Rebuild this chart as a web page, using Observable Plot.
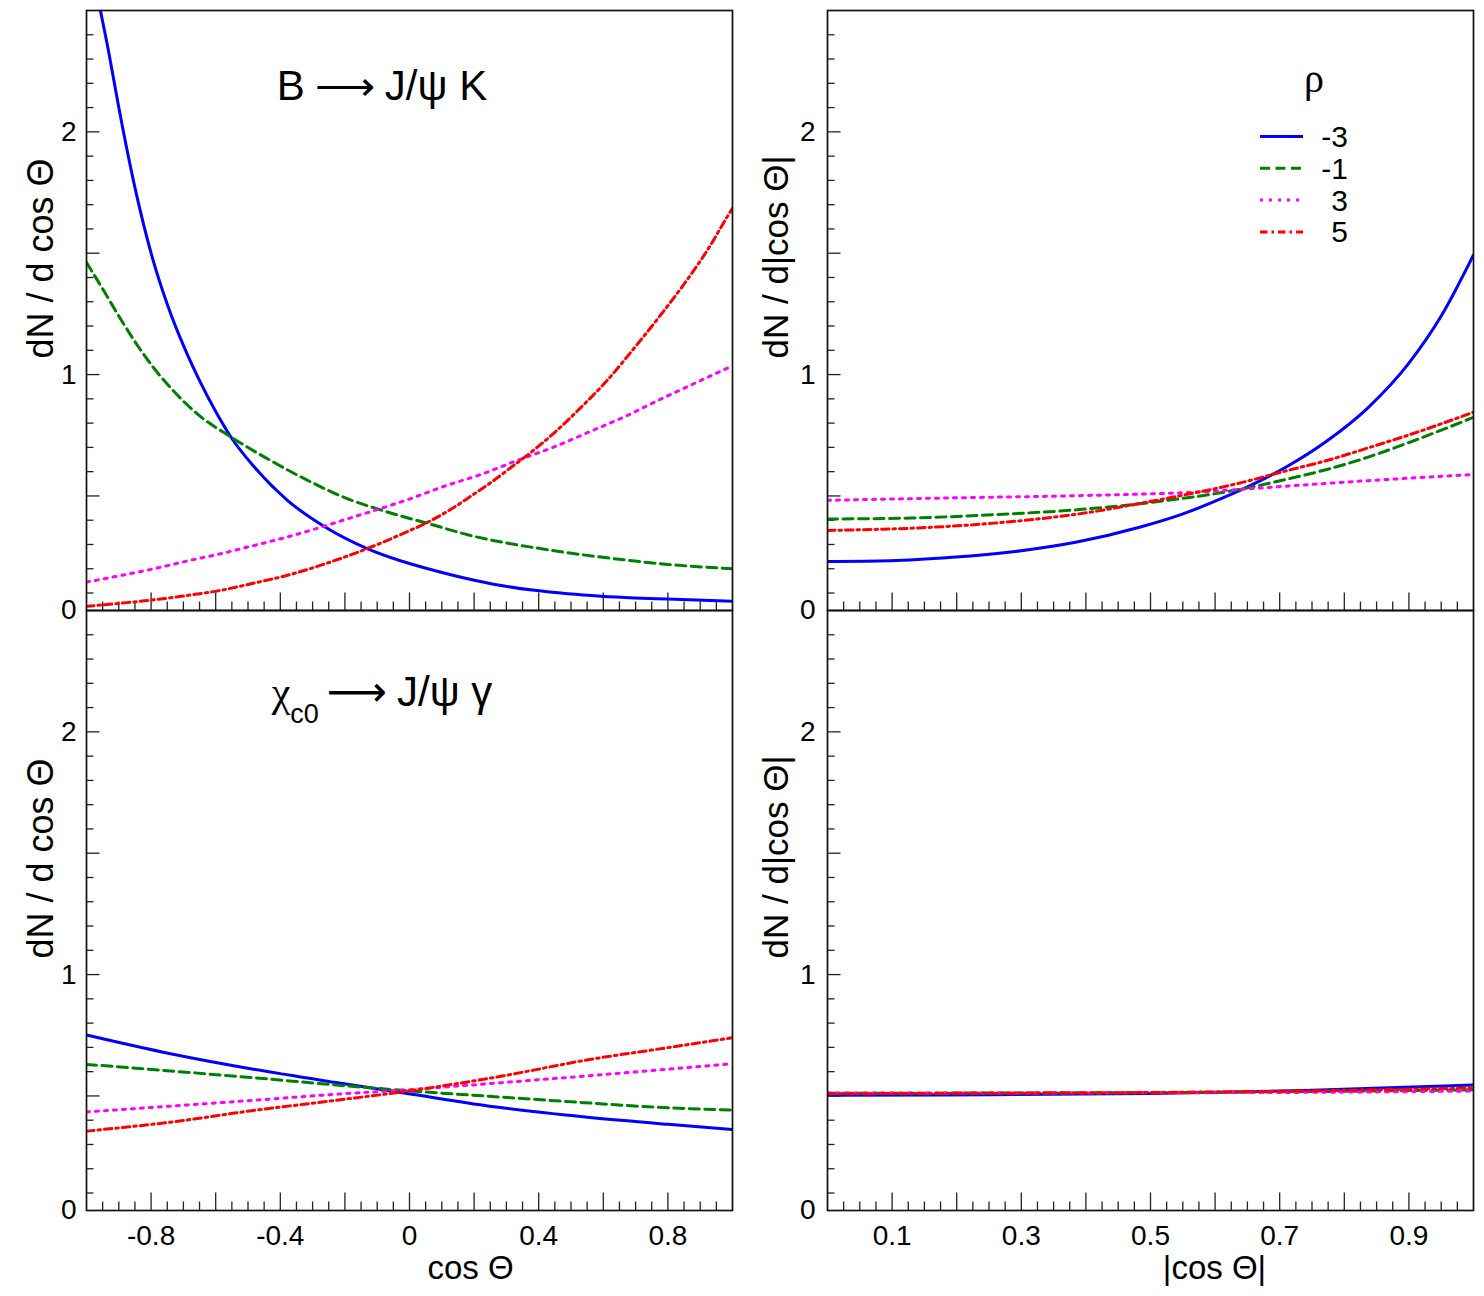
<!DOCTYPE html>
<html><head><meta charset="utf-8">
<script src="https://cdn.jsdelivr.net/npm/d3@7"></script>
<script src="https://cdn.jsdelivr.net/npm/@observablehq/plot@0.6"></script>
<style>
body{margin:0;background:#fff;}
#wrap{position:relative;width:1484px;height:1296px;overflow:hidden;font-family:"Liberation Sans",Arial,Helvetica,sans-serif;}
#wrap > svg{position:absolute;}
</style></head><body><div id="wrap"></div>
<script>
// ---------------- data ----------------
const rhoValues = [-3, -1, 3, 5];
const seriesColors = ["#0000ff", "#008000", "#ff00ff", "#ff0000"];
const seriesDash = [undefined, "10,5.5", "3,6", "7.5,4,2.5,4"];

// B -> J/psi K, dN/dcos(Theta)
const bjkCos_m3 = [[-0.96,2.52],[-0.93,2.32],[-0.9,2.10],[-0.85,1.77],[-0.8,1.50],[-0.75,1.29],[-0.7,1.12],[-0.65,0.975],[-0.6,0.848],[-0.553,0.743],[-0.481,0.620],[-0.378,0.482],[-0.265,0.375],[-0.131,0.283],[-0.026,0.232],[0.077,0.193],[0.180,0.159],[0.284,0.131],[0.387,0.111],[0.490,0.097],[0.593,0.087],[0.696,0.080],[0.799,0.075],[1.0,0.066]];
const bjkCos_m1 = [[-1.0,1.462],[-0.945,1.342],[-0.894,1.228],[-0.843,1.122],[-0.791,1.026],[-0.729,0.930],[-0.657,0.838],[-0.553,0.743],[-0.450,0.661],[-0.327,0.572],[-0.193,0.489],[-0.069,0.434],[0.077,0.379],[0.180,0.340],[0.284,0.310],[0.387,0.287],[0.490,0.266],[0.593,0.248],[0.696,0.232],[0.799,0.218],[1.0,0.200]];
const bjkCos_p3 = [[-1.0,0.145],[-0.894,0.172],[-0.791,0.200],[-0.688,0.232],[-0.585,0.262],[-0.481,0.296],[-0.378,0.331],[-0.265,0.375],[-0.172,0.414],[-0.090,0.448],[-0.005,0.485],[0.108,0.540],[0.222,0.589],[0.335,0.647],[0.448,0.702],[0.557,0.764],[0.670,0.829],[0.778,0.899],[0.886,0.966],[1.0,1.036]];
const bjkCos_p5 = [[-1.0,0.045],[-0.894,0.058],[-0.791,0.072],[-0.688,0.090],[-0.585,0.111],[-0.481,0.141],[-0.378,0.173],[-0.276,0.214],[-0.131,0.283],[-0.010,0.351],[0.057,0.392],[0.128,0.445],[0.191,0.500],[0.253,0.556],[0.314,0.617],[0.397,0.702],[0.448,0.760],[0.531,0.865],[0.608,0.970],[0.701,1.118],[0.789,1.265],[0.861,1.393],[0.923,1.514],[0.984,1.651],[1.0,1.685]];

// B -> J/psi K, dN/d|cos(Theta)|
const bjkAbs_m3 = [[0,0.230],[0.097,0.233],[0.193,0.247],[0.290,0.271],[0.386,0.310],[0.483,0.371],[0.547,0.423],[0.612,0.492],[0.663,0.554],[0.708,0.616],[0.773,0.726],[0.837,0.864],[0.9,1.047],[0.95,1.241],[1.0,1.493]];
const bjkAbs_m1 = [[0,0.405],[0.129,0.409],[0.258,0.423],[0.386,0.443],[0.515,0.478],[0.644,0.530],[0.708,0.567],[0.773,0.609],[0.837,0.660],[0.902,0.722],[1.0,0.824]];
const bjkAbs_p3 = [[0,0.482],[0.193,0.492],[0.386,0.501],[0.580,0.517],[0.708,0.540],[0.837,0.563],[1.0,0.588]];
const bjkAbs_p5 = [[0,0.358],[0.129,0.367],[0.258,0.388],[0.386,0.425],[0.515,0.485],[0.644,0.557],[0.708,0.602],[0.773,0.646],[0.837,0.698],[0.902,0.753],[1.0,0.845]];

// chi_c0 -> J/psi gamma, dN/dcos(Theta)
const chiCos_m3 = [[-1.0,0.751],[-0.740,0.674],[-0.483,0.610],[-0.227,0.555],[-0.021,0.513],[0.287,0.451],[0.544,0.413],[0.800,0.383],[1.0,0.362]];
const chiCos_m1 = [[-1.0,0.630],[-0.740,0.603],[-0.483,0.575],[-0.227,0.545],[-0.021,0.523],[0.287,0.495],[0.544,0.472],[0.800,0.451],[1.0,0.442]];
const chiCos_p3 = [[-1.0,0.434],[-0.740,0.458],[-0.483,0.482],[-0.227,0.507],[-0.021,0.524],[0.287,0.555],[0.544,0.582],[0.800,0.610],[1.0,0.633]];
const chiCos_p5 = [[-1.0,0.355],[-0.740,0.392],[-0.483,0.440],[-0.227,0.482],[-0.021,0.517],[0.287,0.582],[0.544,0.647],[0.800,0.699],[1.0,0.740]];

// chi_c0 -> J/psi gamma, dN/d|cos(Theta)|
const chiAbs_m3 = [[0,0.503],[0.25,0.505],[0.5,0.510],[0.75,0.523],[1.0,0.545]];
const chiAbs_m1 = [[0,0.511],[0.25,0.512],[0.5,0.514],[0.75,0.518],[1.0,0.525]];
const chiAbs_p3 = [[0,0.512],[0.25,0.512],[0.5,0.513],[0.75,0.515],[1.0,0.520]];
const chiAbs_p5 = [[0,0.509],[0.25,0.511],[0.5,0.514],[0.75,0.521],[1.0,0.533]];

// axes
const yMin = 0.028, yMax = 2.5;
const yLabelValues = [0, 1, 2];
const yMajorTicks = [0.5, 1, 1.5, 2];
const xLabelsCos = [-0.8, -0.4, 0, 0.4, 0.8];
const xMajorCos = [-0.8, -0.6, -0.4, -0.2, 0, 0.2, 0.4, 0.6, 0.8];
const xLabelsAbs = [0.1, 0.3, 0.5, 0.7, 0.9];
const xMajorAbs = [0.1, 0.2, 0.3, 0.4, 0.5, 0.6, 0.7, 0.8, 0.9];
const titleTop = ["B", "⟶", "J/ψ K"];
const titleBottom = ["χ", "c0", "⟶", "J/ψ γ"];
const yTitleCos = "dN / d cos Θ", yTitleAbs = "dN / d|cos Θ|";
const xTitleCos = "cos Θ", xTitleAbs = "|cos Θ|";

// --------------- helpers ---------------
const isMajor = (v, majors) => majors.some(m => Math.abs(m - v) < 1e-6);
const yMinorTicks = d3.range(1, 25).map(i => i / 10).filter(v => !isMajor(v, yMajorTicks));
const xMinorCos = d3.range(-19, 20).map(i => i / 20).filter(v => !isMajor(v, xMajorCos));
const xMinorAbs = d3.range(1, 40).map(i => i / 40).filter(v => !isMajor(v, xMajorAbs));
const tickColor = "#222";
const FONT = '"Liberation Sans", Arial, Helvetica, sans-serif';
const wrap = document.getElementById("wrap");

function makePanel(cfg) {
  const frameW = cfg.width - cfg.ml - cfg.mr;
  const frameH = cfg.height - cfg.mt - cfg.mb;
  const marks = [
    Plot.tickY(yMinorTicks, {y: d => d, insetRight: frameW - 7.5, stroke: tickColor, strokeWidth: 1.3}),
    Plot.tickY(yMajorTicks, {y: d => d, insetRight: frameW - 13.5, stroke: tickColor, strokeWidth: 1.3}),
    Plot.tickX(cfg.xMinor, {x: d => d, insetTop: frameH - 8.5, stroke: tickColor, strokeWidth: 1.3}),
    Plot.tickX(cfg.xMajor, {x: d => d, insetTop: frameH - 17.5, stroke: tickColor, strokeWidth: 1.3})
  ];
  cfg.series.forEach((s, i) => marks.push(Plot.line(s, {
    x: d => d[0], y: d => d[1], stroke: seriesColors[i], strokeWidth: 3,
    strokeDasharray: seriesDash[i], curve: "monotone-x", clip: true
  })));
  marks.push(Plot.frame({stroke: "#111", strokeWidth: 1.7}));
  marks.push(Plot.axisY(yLabelValues.map(v => Math.max(v, yMin)), {
    anchor: "left", tickSize: 0, tickPadding: cfg.yPad, fontSize: 28,
    tickFormat: d => String(Math.round(d)), label: null
  }));
  if (cfg.xLabels) {
    marks.push(Plot.axisX(cfg.xLabels, {
      anchor: "bottom", tickSize: 0, tickPadding: 15, fontSize: 28,
      tickFormat: d => String(d), label: null
    }));
    marks.push(Plot.text([cfg.xTitle], {
      frameAnchor: "bottom", dx: cfg.xTitleDx, dy: 58, fontSize: 33, lineAnchor: "middle"
    }));
  }
  marks.push(Plot.text([cfg.yTitle], {
    frameAnchor: "bottom-left", dx: cfg.yTitleDx, dy: -252, rotate: -90,
    textAnchor: "start", lineAnchor: "middle", fontSize: cfg.yTitleSize
  }));
  const svg = Plot.plot({
    width: cfg.width, height: cfg.height,
    marginTop: cfg.mt, marginBottom: cfg.mb, marginLeft: cfg.ml, marginRight: cfg.mr,
    x: {domain: cfg.xDomain, axis: null},
    y: {domain: [yMin, yMax], axis: null},
    style: {fontFamily: FONT, background: "transparent", overflow: "visible", color: "#000"},
    marks
  });
  svg.style.left = cfg.left + "px";
  svg.style.top = cfg.top + "px";
  wrap.appendChild(svg);
}

const leftCol = {left: 0, width: 745, ml: 86, mr: 13, xDomain: [-1, 1], xMajor: xMajorCos, xMinor: xMinorCos, yTitle: yTitleCos, yTitleDx: -45, yTitleSize: 36, yPad: 10, xTitle: xTitleCos, xTitleDx: 61};
const rightCol = {left: 745, width: 739, ml: 82, mr: 11, xDomain: [0, 1], xMajor: xMajorAbs, xMinor: xMinorAbs, yTitle: yTitleAbs, yTitleDx: -51, yTitleSize: 35, yPad: 12, xTitle: xTitleAbs, xTitleDx: 64};
const topRow = {top: 0, height: 610, mt: 10, mb: 0};
const botRow = {top: 610, height: 686, mt: 0, mb: 86};

makePanel({...leftCol, ...topRow, series: [bjkCos_m3, bjkCos_m1, bjkCos_p3, bjkCos_p5]});
makePanel({...rightCol, ...topRow, series: [bjkAbs_m3, bjkAbs_m1, bjkAbs_p3, bjkAbs_p5]});
makePanel({...leftCol, ...botRow, series: [chiCos_m3, chiCos_m1, chiCos_p3, chiCos_p5], xLabels: xLabelsCos});
makePanel({...rightCol, ...botRow, series: [chiAbs_m3, chiAbs_m1, chiAbs_p3, chiAbs_p5], xLabels: xLabelsAbs});

// --------------- overlay: titles + legend ---------------
const ov = d3.select(wrap).append("svg")
  .attr("width", 1484).attr("height", 1296)
  .style("left", "0px").style("top", "0px").style("pointer-events", "none")
  .style("font-family", FONT);

const t1 = ov.append("text").attr("x", 382).attr("y", 100).attr("text-anchor", "middle").attr("font-size", 42);
t1.append("tspan").text(titleTop[0]);
t1.append("tspan").attr("dx", 10).attr("font-family", "DejaVu Sans").attr("font-weight", 300).text(titleTop[1]);
t1.append("tspan").attr("dx", 10).text(titleTop[2]);

const t2 = ov.append("text").attr("x", 382).attr("y", 706).attr("text-anchor", "middle").attr("font-size", 42);
t2.append("tspan").attr("font-family", "Liberation Serif").text(titleBottom[0]);
t2.append("tspan").attr("font-size", 27).attr("dy", 17).text(titleBottom[1]);
t2.append("tspan").attr("dy", -17).attr("dx", 8).attr("font-family", "DejaVu Sans").text(titleBottom[2]);
t2.append("tspan").attr("dx", 10).text(titleBottom[3]);

const lg = ov.append("g");
lg.append("text").attr("x", 1314).attr("y", 92).attr("text-anchor", "middle")
  .attr("font-size", 40).attr("font-family", "Liberation Serif").text("ρ");
rhoValues.forEach((r, i) => {
  const y = 136.5 + i * 31.8;
  lg.append("line").attr("x1", 1260).attr("x2", 1303).attr("y1", y).attr("y2", y)
    .attr("stroke", seriesColors[i]).attr("stroke-width", 3)
    .attr("stroke-dasharray", seriesDash[i] || null);
  lg.append("text").attr("x", 1348).attr("y", y).attr("dy", "0.35em")
    .attr("text-anchor", "end").attr("font-size", 30).text(String(r));
});
</script></body></html>
